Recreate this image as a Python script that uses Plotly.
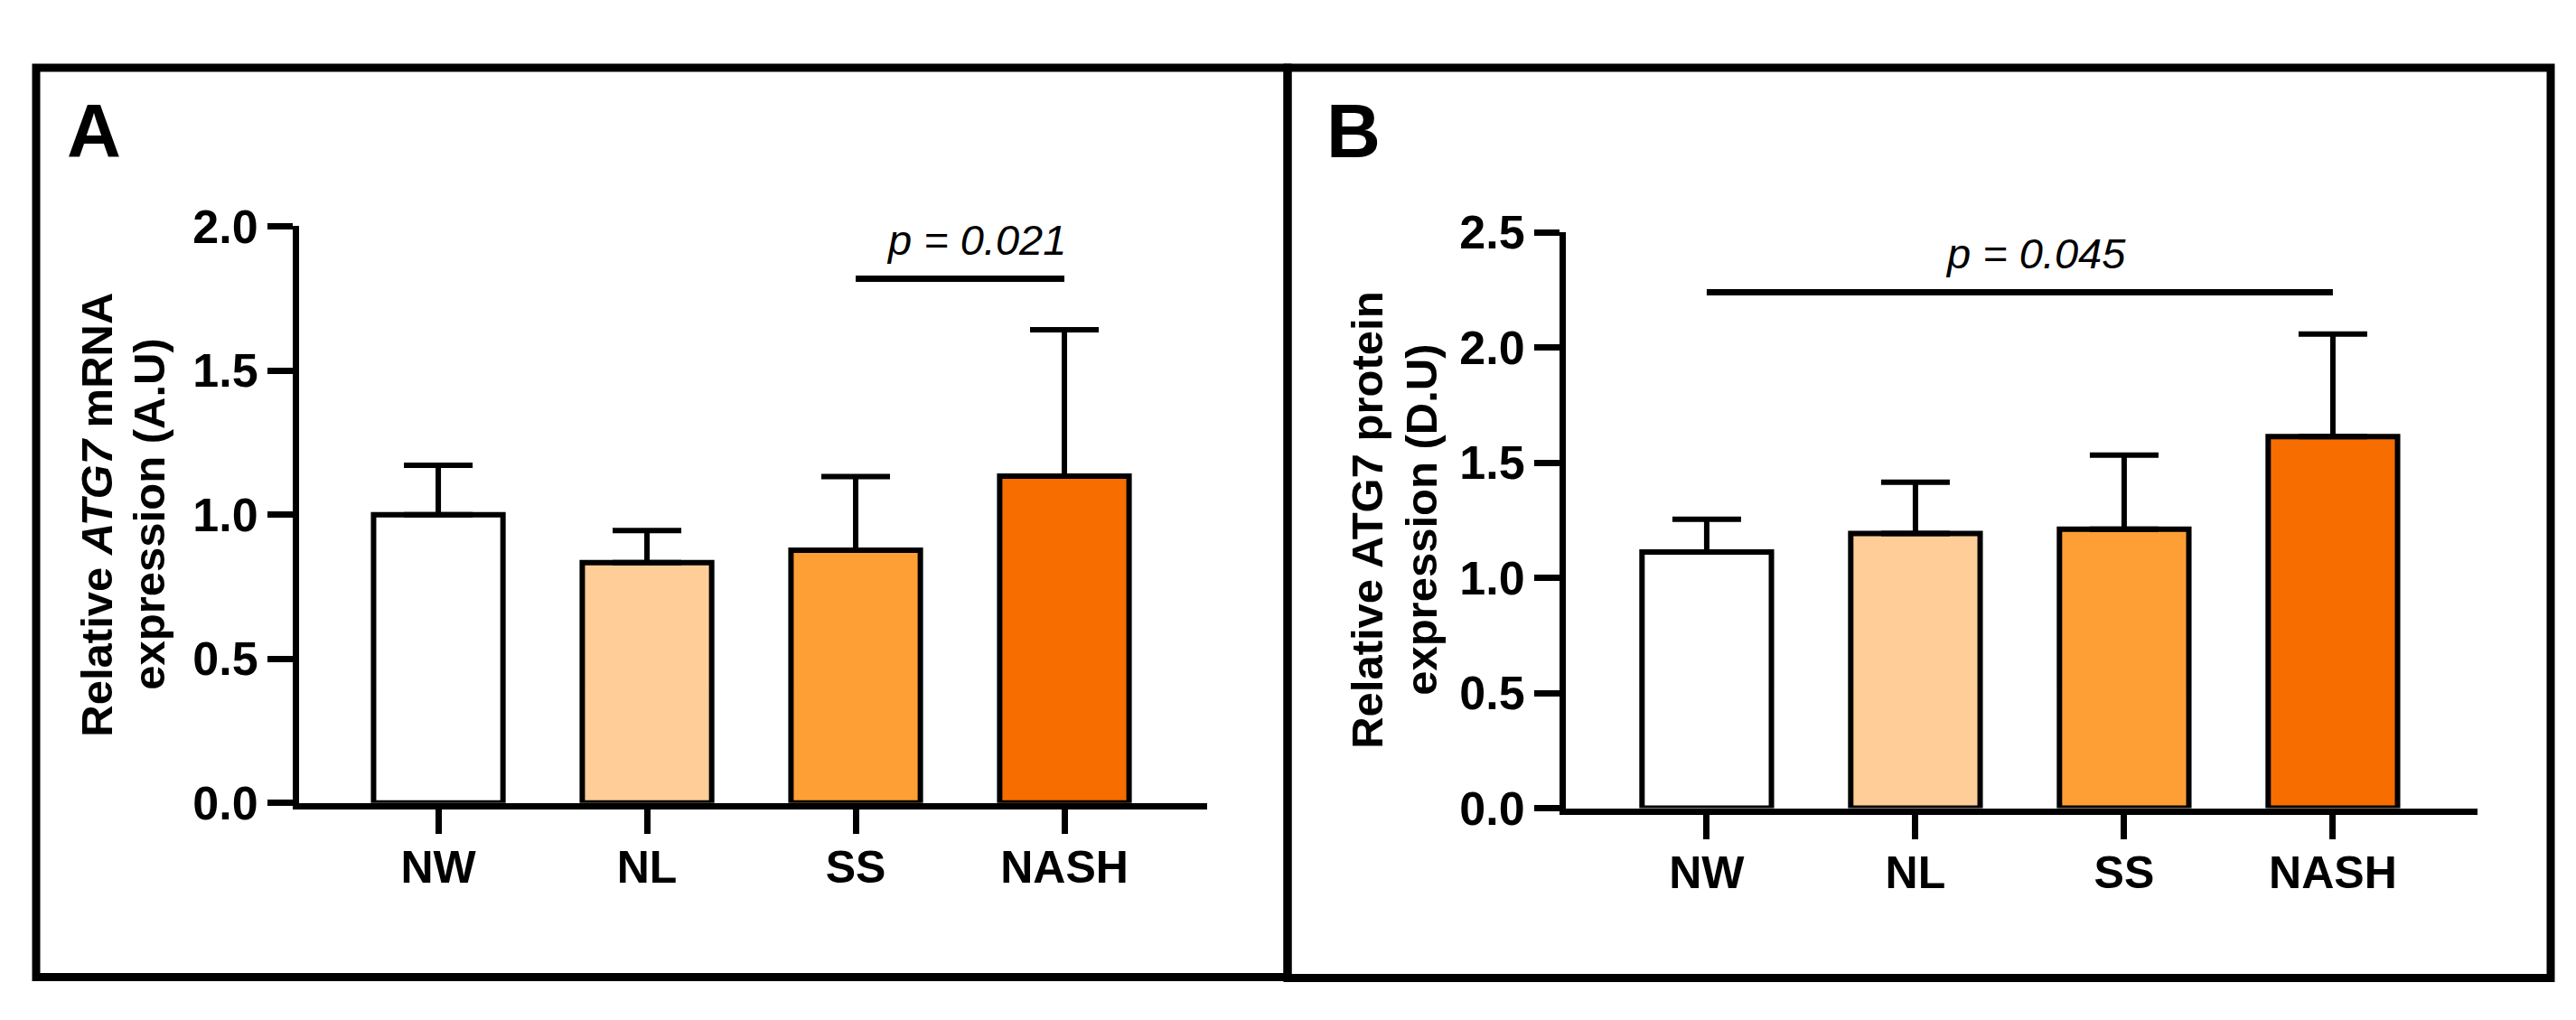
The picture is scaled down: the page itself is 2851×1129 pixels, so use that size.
import plotly.graph_objects as go

W, H = 2851, 1129

categories = ["NW", "NL", "SS", "NASH"]
bar_colors = ["#FFFFFF", "#FECD98", "#FE9F35", "#F76D00"]

mrna_mean = [1.00, 0.834, 0.877, 1.134]
mrna_sd = [0.171, 0.111, 0.255, 0.507]

protein_mean = [1.112, 1.192, 1.211, 1.613]
protein_sd = [0.142, 0.223, 0.322, 0.445]

mrna_ticks = [0.0, 0.5, 1.0, 1.5, 2.0]
protein_ticks = [0.0, 0.5, 1.0, 1.5, 2.0, 2.5]

mrna_p_text = "p = 0.021"
mrna_p_pair = ["SS", "NASH"]
mrna_p_height = 1.818
mrna_p_text_height = 1.952

protein_p_text = "p = 0.045"
protein_p_pair = ["NW", "NASH"]
protein_p_height = 2.24
protein_p_text_height = 2.407

FONT = "Liberation Sans, Arial, sans-serif"


def px_x(v):
    return v / W


def px_y(v):
    return 1 - v / H


fig = go.Figure()

panels = [
    dict(mean=mrna_mean, sd=mrna_sd, ticks=mrna_ticks, xa="x", ya="y",
         xdom=[px_x(323), px_x(1328)], ydom=[px_y(898), px_y(225)],
         yrange=[0, 2.0], xrange=[-0.667, 3.684],
         ptext=mrna_p_text, ppair=mrna_p_pair, ph=mrna_p_height, pth=mrna_p_text_height,
         title1="Relative <i>ATG7</i> mRNA", title2="expression (A.U)",
         t1x=99, t2x=157, letter="A", letter_x=64),
    dict(mean=protein_mean, sd=protein_sd, ticks=protein_ticks, xa="x2", ya="y2",
         xdom=[px_x(1725), px_x(2734)], ydom=[px_y(904), px_y(232)],
         yrange=[0, 2.5], xrange=[-0.675, 3.693],
         ptext=protein_p_text, ppair=protein_p_pair, ph=protein_p_height, pth=protein_p_text_height,
         title1="Relative ATG7 protein", title2="expression (D.U)",
         t1x=1505, t2x=1565, letter="B", letter_x=1458),
]

layout_axes = {}
annotations = []
shapes = []

for i, p in enumerate(panels):
    sfx = "" if i == 0 else str(i + 1)
    fig.add_trace(go.Bar(
        x=categories, y=p["mean"], xaxis=p["xa"], yaxis=p["ya"],
        width=0.62,
        marker=dict(color=bar_colors, line=dict(color="black", width=6)),
        error_y=dict(type="data", array=p["sd"], arrayminus=[0] * len(p["sd"]),
                     symmetric=False, color="black", thickness=6, width=38),
        showlegend=False, hoverinfo="skip",
    ))
    # significance bracket line
    fig.add_trace(go.Scatter(
        x=p["ppair"], y=[p["ph"], p["ph"]], xaxis=p["xa"], yaxis=p["ya"],
        mode="lines", line=dict(color="black", width=7),
        showlegend=False, hoverinfo="skip", cliponaxis=False,
    ))
    layout_axes["xaxis" + sfx] = dict(
        domain=p["xdom"], range=p["xrange"], type="category",
        categoryorder="array", categoryarray=categories,
        showline=True, linecolor="black", linewidth=7,
        ticks="outside", ticklen=27, tickwidth=7, tickcolor="black",
        ticklabelstandoff=-6,
        tickfont=dict(family=FONT, size=50, color="black", weight="bold"),
        showgrid=False, zeroline=False, anchor=p["ya"], fixedrange=True,
    )
    layout_axes["yaxis" + sfx] = dict(
        domain=p["ydom"], range=p["yrange"],
        tickvals=p["ticks"], ticktext=[f"{t:.1f}" for t in p["ticks"]],
        showline=True, linecolor="black", linewidth=7,
        ticks="outside", ticklen=28, tickwidth=7, tickcolor="black",
        tickfont=dict(family=FONT, size=52, color="black", weight="bold"),
        showgrid=False, zeroline=False, anchor=p["xa"], fixedrange=True,
    )
    # x axis extension to the left (GraphPad style)
    shapes.append(dict(type="line", xref=p["xa"] + " domain", yref=p["ya"],
                       x0=-28 / (p["xdom"][1] - p["xdom"][0]) / W, x1=0, y0=0, y1=0,
                       line=dict(color="black", width=7)))
    # p-value text
    annotations.append(dict(
        x=(categories.index(p["ppair"][0]) + categories.index(p["ppair"][1])) / 2,
        y=p["pth"], xref=p["xa"], yref=p["ya"], text=p["ptext"], showarrow=False,
        xshift=18, xanchor="center", yanchor="middle",
        font=dict(family=FONT, size=47, color="black", style="italic"),
    ))
    ymid = (p["ydom"][0] + p["ydom"][1]) / 2
    for tx, txt in [(p["t1x"], p["title1"]), (p["t2x"], p["title2"])]:
        annotations.append(dict(
            x=px_x(tx), y=ymid, xref="paper", yref="paper", text=txt,
            textangle=-90, showarrow=False, xanchor="center", yanchor="middle",
            font=dict(family=FONT, size=49, color="black", weight="bold"),
        ))
    annotations.append(dict(
        x=px_x(p["letter_x"]), y=px_y(63), xref="paper", yref="paper",
        text=p["letter"], showarrow=False, xanchor="left", yanchor="top",
        font=dict(family=FONT, size=83, color="black", weight="bold"),
    ))

# panel frames
shapes.append(dict(type="rect", xref="paper", yref="paper",
                   x0=px_x(32), x1=px_x(1417), y0=px_y(1101), y1=px_y(40),
                   line=dict(color="black", width=9), fillcolor="rgba(0,0,0,0)"))
shapes.append(dict(type="rect", xref="paper", yref="paper",
                   x0=px_x(1417), x1=px_x(2815), y0=px_y(1102), y1=px_y(40),
                   line=dict(color="black", width=9), fillcolor="rgba(0,0,0,0)"))

fig.update_layout(
    width=W, height=H, margin=dict(l=0, r=0, t=0, b=0, pad=0),
    paper_bgcolor="white", plot_bgcolor="white",
    bargap=0.38, shapes=shapes, annotations=annotations,
    **layout_axes,
)

fig.write_html("out.html", config={"displayModeBar": False})
